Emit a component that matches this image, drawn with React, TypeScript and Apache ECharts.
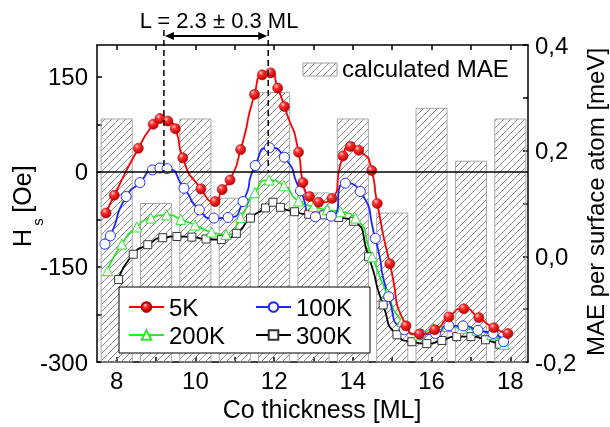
import React, { useEffect, useRef } from 'react';
import * as echarts from 'echarts';

// Axis ticks / labels
const thicknessTicks = [8, 9, 10, 11, 12, 13, 14, 15, 16, 17, 18];
const thicknessLabels = [8, 10, 12, 14, 16, 18];
const hsTicks = [-300, -225, -150, -75, 0, 75, 150];
const hsLabels = [-300, -150, 0, 150];
const maeTicks = [-0.2, -0.1, 0, 0.1, 0.2, 0.3, 0.4];
const maeLabels = [-0.2, 0, 0.2, 0.4];

// Calculated MAE bars
const maeThickness = [8, 9, 10, 11, 12, 13, 14, 15, 16, 17, 18];
const maeValues = [0.26, 0.1, 0.26, 0.11, 0.31, 0.12, 0.26, 0.082, 0.28, 0.18, 0.26];

// Hs series
const x5K = [7.73, 7.94, 8.55, 8.93, 9.1, 9.3, 9.49, 9.68, 10.14, 10.5, 10.68, 10.88, 11.15, 11.5, 11.7, 11.91, 12.09, 12.26, 12.62, 12.73, 12.9, 13.13, 13.47, 13.75, 13.94, 14.15, 14.48, 14.62, 14.94, 15.35, 15.69, 16.08, 16.44, 16.82, 17.2, 17.58, 17.94];
const hs5K = [-65, -37, 37, 75, 84, 80, 68, 22, -27, -47, -28, -13, 35, 122, 153, 156, 132, 103, 31, -17, -39, -48, -42, 25, 40, 34, 2, -50, -145, -243, -256, -249, -229, -216, -230, -246, -255];

const x100K = [7.7, 7.84, 8.24, 8.59, 8.91, 9.1, 9.28, 9.71, 10.1, 10.47, 10.83, 11.21, 11.52, 11.88, 12.26, 12.67, 13.05, 13.45, 13.81, 14.19, 14.57, 14.91, 15.31, 15.72, 16.1, 16.44, 16.8, 17.18, 17.56, 17.83];
const hs100K = [-114, -101, -39, -17, 3, 6, 5, -26, -60, -73, -72, -47, 10, 38, 23, -30, -71, -70, -18, -31, -105, -197, -249, -256, -255, -243, -243, -250, -255, -268];

const x200K = [7.77, 8.13, 8.51, 8.87, 9.27, 9.63, 9.99, 10.41, 10.78, 11.15, 11.51, 11.87, 12.25, 12.62, 13.0, 13.35, 13.69, 14.07, 14.49, 14.87, 15.25, 15.67, 16.05, 16.39, 16.77, 17.15, 17.53, 17.85];
const hs200K = [-156, -114, -87, -73, -68, -75, -84, -95, -99, -72, -33, -13, -22, -46, -55, -60, -63, -73, -134, -192, -236, -257, -247, -244, -247, -250, -257, -272];

const x300K = [8.05, 8.42, 8.79, 9.17, 9.53, 9.91, 10.27, 10.66, 11.04, 11.4, 11.78, 11.97, 12.16, 12.52, 12.88, 13.26, 13.64, 14.02, 14.4, 14.77, 15.12, 15.5, 15.88, 16.26, 16.64, 17.0, 17.37, 17.73];
const hs300K = [-170, -130, -115, -104, -102, -103, -106, -107, -97, -73, -57, -48, -56, -63, -67, -68, -72, -78, -134, -210, -257, -268, -271, -266, -260, -260, -265, -272];

// Period annotation
const periodStart = 9.2;
const periodEnd = 11.85;
const periodText = 'L = 2.3 ± 0.3 ML';

const FONT = '"Liberation Sans", Arial, sans-serif';

function makeHatch() {
  const c = document.createElement('canvas');
  c.width = 7;
  c.height = 7;
  const g = c.getContext('2d')!;
  g.strokeStyle = '#8a8a8a';
  g.lineWidth = 1;
  g.beginPath();
  g.moveTo(0, 7);
  g.lineTo(7, 0);
  g.moveTo(-1, 1);
  g.lineTo(1, -1);
  g.moveTo(6, 8);
  g.lineTo(8, 6);
  g.stroke();
  return c;
}

const zip = (xs: number[], ys: number[]) => xs.map((x, i) => [x, ys[i]]);

export default function App() {
  const ref = useRef<HTMLDivElement>(null);
  useEffect(() => {
    const el = ref.current!;
    const chart = echarts.init(el, null, { renderer: 'svg' });
    const pattern: any = { image: makeHatch(), repeat: 'repeat' };

    const axisLine = { show: true, onZero: false, lineStyle: { color: '#000', width: 1.5 } };
    const tick = (vals: number[]) => ({
      show: true,
      inside: true,
      length: 5,
      customValues: vals,
      lineStyle: { color: '#000', width: 1.5 },
    });
    const labelBase = { fontSize: 24, color: '#000', fontFamily: FONT };

    const redBall = new echarts.graphic.RadialGradient(0.35, 0.3, 0.7, [
      { offset: 0, color: '#ffd0d0' },
      { offset: 0.35, color: '#ff3030' },
      { offset: 1, color: '#c00000' },
    ]);

    const legendBase = {
      orient: 'vertical',
      padding: 0,
      itemWidth: 35,
      itemHeight: 12,
      itemGap: 0,
      selectedMode: false,
      z: 6,
      textStyle: { fontSize: 24, lineHeight: 24, color: '#000', fontFamily: FONT },
    };

    const lineBase = { type: 'line', smooth: 0.75 };

    const option: any = {
      animation: false,
      textStyle: { fontFamily: FONT },
      grid: { left: 97, right: 82, top: 45, bottom: 65, outerBoundsMode: 'none' },
      xAxis: [
        {
          type: 'value', min: 7.5, max: 18.45, position: 'bottom',
          axisLine, axisTick: tick(thicknessTicks),
          axisLabel: { ...labelBase, customValues: thicknessLabels, margin: 6 },
          splitLine: { show: false },
        },
        {
          type: 'value', min: 7.5, max: 18.45, position: 'top',
          axisLine, axisTick: tick(thicknessTicks),
          axisLabel: { show: false }, splitLine: { show: false },
        },
      ],
      yAxis: [
        {
          type: 'value', min: -300, max: 200, position: 'left',
          axisLine, axisTick: tick(hsTicks),
          axisLabel: { ...labelBase, customValues: hsLabels, margin: 9 },
          splitLine: { show: false },
        },
        {
          type: 'value', min: -0.2, max: 0.4, position: 'right',
          axisLine, axisTick: tick(maeTicks),
          axisLabel: {
            ...labelBase, customValues: maeLabels, margin: 7,
            formatter: (v: number) => v.toFixed(1).replace('.', ','),
          },
          splitLine: { show: false },
        },
      ],
      legend: [
        { ...legendBase, data: ['5K'], left: 128, top: 295 },
        { ...legendBase, data: ['100K'], left: 255, top: 295 },
        { ...legendBase, data: ['200K'], left: 128, top: 323 },
        { ...legendBase, data: ['300K'], left: 255, top: 323 },
      ],
      series: [
        {
          name: 'calculated MAE',
          type: 'custom',
          xAxisIndex: 0,
          yAxisIndex: 1,
          z: 1,
          data: zip(maeThickness, maeValues),
          encode: { x: 0, y: 1 },
          renderItem: (params: any, api: any) => {
            const x = api.value(0);
            const v = api.value(1);
            const p1 = api.coord([x - 0.395, v]);
            const p2 = api.coord([x + 0.395, -0.2]);
            return {
              type: 'rect',
              shape: { x: p1[0], y: p1[1], width: p2[0] - p1[0], height: p2[1] - p1[1] },
              style: { fill: pattern, stroke: '#a8a8a8', lineWidth: 1 },
            };
          },
        },
        {
          ...lineBase, name: '300K', data: zip(x300K, hs300K),
          symbol: 'rect', symbolSize: 8, z: 3,
          lineStyle: { color: '#000', width: 1.8 },
          itemStyle: { color: '#fff', borderColor: '#333', borderWidth: 1 },
        },
        {
          ...lineBase, name: '200K', data: zip(x200K, hs200K),
          symbol: 'triangle', symbolSize: 10, z: 3,
          lineStyle: { color: '#2ee62e', width: 1.8 },
          itemStyle: { color: '#fff', borderColor: '#2ee62e', borderWidth: 1 },
        },
        {
          ...lineBase, name: '100K', data: zip(x100K, hs100K),
          symbol: 'circle', symbolSize: 10, z: 3,
          lineStyle: { color: '#1a28ff', width: 1.8 },
          itemStyle: { color: '#fff', borderColor: '#1a28ff', borderWidth: 1 },
        },
        {
          ...lineBase, name: '5K', data: zip(x5K, hs5K),
          symbol: 'circle', symbolSize: 10, z: 4,
          lineStyle: { color: '#ff0000', width: 1.8 },
          itemStyle: { color: redBall, borderColor: '#b00000', borderWidth: 0.6 },
          markLine: {
            silent: true,
            symbol: ['none', 'none'],
            label: { show: false },
            lineStyle: { color: '#000', width: 1.5, type: 'solid' },
            data: [{ yAxis: 0 }],
          },
        },
      ],
    };
    chart.setOption(option);

    const pL = chart.convertToPixel({ xAxisIndex: 0, yAxisIndex: 0 }, [periodStart, 0]) as number[];
    const pR = chart.convertToPixel({ xAxisIndex: 0, yAxisIndex: 0 }, [periodEnd, 0]) as number[];
    const xL = pL[0];
    const xR = pR[0];
    const y0 = pL[1];
    const dashTop = 30;
    const arrowY = 36;
    const textStyle = (extra: any) => ({ fill: '#000', fontFamily: FONT, ...extra });
    const centered = { align: 'center', verticalAlign: 'middle', textAlign: 'center', textVerticalAlign: 'middle' };

    chart.setOption({
      graphic: {
        elements: [
          { type: 'line', z: 5, shape: { x1: xL, y1: dashTop, x2: xL, y2: y0 }, style: { stroke: '#000', lineWidth: 1.5, lineDash: [6, 4] } },
          { type: 'line', z: 5, shape: { x1: xR, y1: dashTop, x2: xR, y2: y0 }, style: { stroke: '#000', lineWidth: 1.5, lineDash: [6, 4] } },
          { type: 'line', z: 5, shape: { x1: xL + 6, y1: arrowY, x2: xR - 6, y2: arrowY }, style: { stroke: '#000', lineWidth: 2 } },
          { type: 'polygon', z: 5, shape: { points: [[xL + 1, arrowY], [xL + 10, arrowY - 4], [xL + 10, arrowY + 4]] }, style: { fill: '#000' } },
          { type: 'polygon', z: 5, shape: { points: [[xR - 1, arrowY], [xR - 10, arrowY - 4], [xR - 10, arrowY + 4]] }, style: { fill: '#000' } },
          {
            type: 'text', z: 5, x: (xL + xR) / 2 + 3, y: 20,
            style: textStyle({ text: periodText, fontSize: 22, lineHeight: 22, ...centered }),
          },
          // legend box for the Hs series
          { type: 'rect', z: 5, shape: { x: 119, y: 287, width: 251, height: 66 }, style: { fill: '#fff', stroke: '#000', lineWidth: 1 } },
          // legend for the calculated MAE bars
          { type: 'rect', z: 5, shape: { x: 303, y: 63, width: 34, height: 13 }, style: { fill: pattern, stroke: '#a0a0a0', lineWidth: 1 } },
          {
            type: 'text', z: 5, x: 342, y: 68,
            style: textStyle({ text: 'calculated MAE', fontSize: 24, lineHeight: 24, align: 'left', verticalAlign: 'middle', textAlign: 'left', textVerticalAlign: 'middle' }),
          },
          // axis titles
          {
            type: 'text', z: 5, x: 322, y: 409,
            style: textStyle({ text: 'Co thickness [ML]', fontSize: 25, lineHeight: 25, ...centered }),
          },
          {
            type: 'text', z: 5, x: 595, y: 202, rotation: Math.PI / 2,
            style: textStyle({ text: 'MAE per surface atom [meV]', fontSize: 24, lineHeight: 24, ...centered }),
          },
          {
            type: 'text', z: 5, x: 22, y: 238, rotation: Math.PI / 2,
            style: textStyle({ text: 'H', fontSize: 25, lineHeight: 25, ...centered }),
          },
          {
            type: 'text', z: 5, x: 37, y: 222, rotation: Math.PI / 2,
            style: textStyle({ text: 's', fontSize: 15, lineHeight: 15, ...centered }),
          },
          {
            type: 'text', z: 5, x: 22, y: 189, rotation: Math.PI / 2,
            style: textStyle({ text: '[Oe]', fontSize: 25, lineHeight: 25, ...centered }),
          },
        ],
      },
    });

    return () => chart.dispose();
  }, []);

  return <div ref={ref} style={{ position: 'fixed', left: 0, top: 0, width: 610, height: 427 }} />;
}
